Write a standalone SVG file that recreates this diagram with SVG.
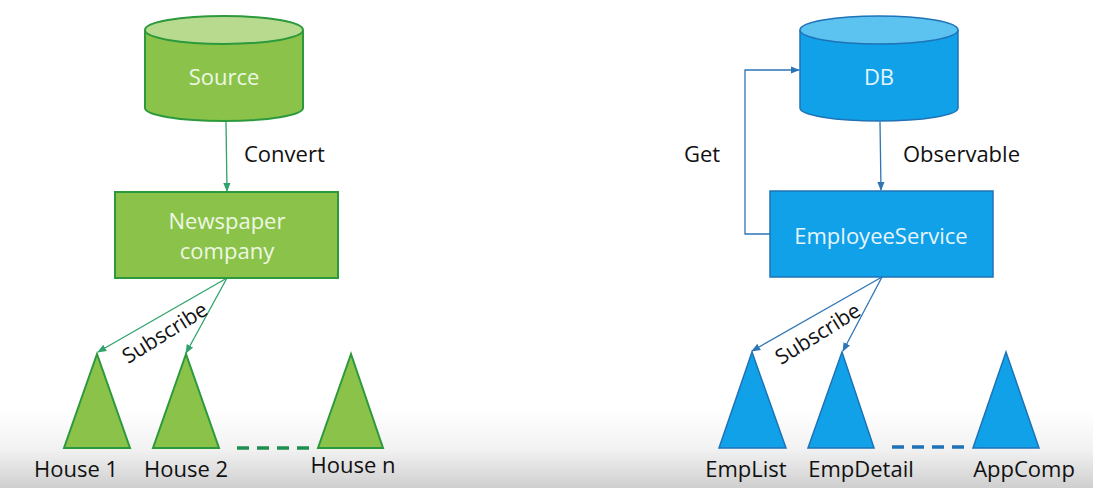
<svg xmlns="http://www.w3.org/2000/svg" width="1093" height="488" viewBox="0 0 1093 488">
<defs>
<linearGradient id="bg" x1="0" y1="0" x2="0" y2="1">
<stop offset="0" stop-color="#ffffff"/>
<stop offset="0.84" stop-color="#ffffff"/>
<stop offset="0.92" stop-color="#f2f2f2"/>
<stop offset="1" stop-color="#cfcfcf"/>
</linearGradient>
<marker id="ag" viewBox="0 0 10 10" refX="9" refY="5" markerWidth="7" markerHeight="7" orient="auto"><path d="M0,1 L10,5 L0,9 z" fill="#2fa36b"/></marker>
<marker id="ab" viewBox="0 0 10 10" refX="9" refY="5" markerWidth="7" markerHeight="7" orient="auto"><path d="M0,1 L10,5 L0,9 z" fill="#2e75b6"/></marker>
<style>
.t{font-family:"Open Sans","Liberation Sans",sans-serif;font-size:22px;fill:#111;}
.s{font-family:"Open Sans","Liberation Sans",sans-serif;font-size:21px;fill:#111;}
.w{font-family:"Open Sans","Liberation Sans",sans-serif;font-size:22px;fill:#eef7e4;text-anchor:middle;}
.wb{font-family:"Open Sans","Liberation Sans",sans-serif;font-size:22px;fill:#e6f5fd;text-anchor:middle;}
.g{fill:#8bc34a;stroke:#2c9a3c;stroke-width:2;}
.gl{fill:#b8da8e;stroke:#2c9a3c;stroke-width:2;}
.b{fill:#11a1e8;stroke:#1e73b8;stroke-width:1.5;}
.bl{fill:#5cc2f0;stroke:#1e73b8;stroke-width:1.5;}
.cg{fill:none;stroke:#2fa36b;stroke-width:1.3;}
.cb{fill:none;stroke:#2e75b6;stroke-width:1.3;}
.dg{stroke:#1e8f4e;stroke-width:3.5;stroke-dasharray:12 8;}
.db{stroke:#1e73b8;stroke-width:3.5;stroke-dasharray:12 8;}
</style>
</defs>
<rect width="1093" height="488" fill="url(#bg)"/>
<g id="connectors">
<line class="cg" x1="226" y1="122" x2="227" y2="191" marker-end="url(#ag)"/>
<line class="cg" x1="227" y1="278" x2="98" y2="352" marker-end="url(#ag)"/>
<line class="cg" x1="227" y1="278" x2="186" y2="353" marker-end="url(#ag)"/>
<line class="cb" x1="880" y1="122" x2="881" y2="190" marker-end="url(#ab)"/>
<polyline class="cb" points="770,234 745,234 745,70 799,70" marker-end="url(#ab)"/>
<line class="cb" x1="882" y1="277" x2="752" y2="351" marker-end="url(#ab)"/>
<line class="cb" x1="882" y1="277" x2="843" y2="351" marker-end="url(#ab)"/>
<line class="dg" x1="237" y1="448" x2="310" y2="448"/>
<line class="db" x1="892" y1="447" x2="965" y2="447"/>
<text class="t" x="244" y="162">Convert</text>
<text class="s" x="165" y="340" text-anchor="middle" transform="rotate(-32 165 333)">Subscribe</text>
<text class="t" x="684" y="162">Get</text>
<text class="t" x="903" y="162">Observable</text>
<text class="s" x="818" y="341" text-anchor="middle" transform="rotate(-32 818 334)">Subscribe</text>
</g>
<g id="source">
<path class="g" d="M145,30 L145,108 A79,13 0 0 0 303,108 L303,30"/>
<ellipse class="gl" cx="224" cy="30" rx="79" ry="14"/>
<text class="w" x="224" y="85">Source</text>
</g>
<g id="newspaper">
<rect class="g" x="115" y="192" width="223" height="86"/>
<text class="w" x="227" y="229">Newspaper</text>
<text class="w" x="227" y="259">company</text>
</g>
<g id="house1">
<polygon class="g" points="97,354 64,448 130,448"/>
<text class="t" x="76" y="477" text-anchor="middle">House 1</text>
</g>
<g id="house2">
<polygon class="g" points="186,354 153,448 219,448"/>
<text class="t" x="186" y="477" text-anchor="middle">House 2</text>
</g>
<g id="housen">
<polygon class="g" points="351,354 318,448 383,448"/>
<text class="t" x="353" y="473" text-anchor="middle">House n</text>
</g>
<g id="db">
<path class="b" d="M800,30 L800,108 A79,13 0 0 0 958,108 L958,30"/>
<ellipse class="bl" cx="879" cy="30" rx="79" ry="14"/>
<text class="wb" x="879" y="85">DB</text>
</g>
<g id="employeeservice">
<rect class="b" x="770" y="191" width="223" height="86"/>
<text class="wb" x="881" y="244">EmployeeService</text>
</g>
<g id="emplist">
<polygon class="b" points="752,352 719,448 786,448"/>
<text class="t" x="746" y="477" text-anchor="middle">EmpList</text>
</g>
<g id="empdetail">
<polygon class="b" points="842,352 808,448 874,448"/>
<text class="t" x="861" y="477" text-anchor="middle">EmpDetail</text>
</g>
<g id="appcomp">
<polygon class="b" points="1006,352 973,448 1039,448"/>
<text class="t" x="1024" y="477" text-anchor="middle">AppComp</text>
</g>
</svg>
